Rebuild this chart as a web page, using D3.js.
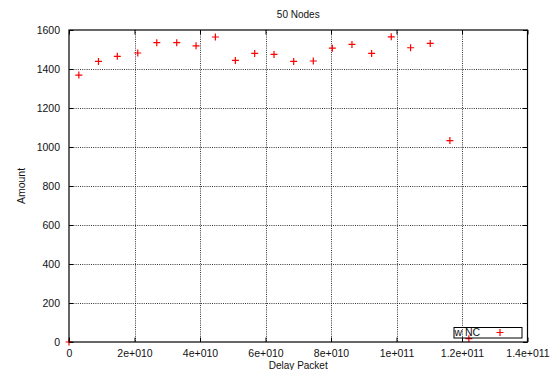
<!DOCTYPE html>
<html>
<head>
<meta charset="utf-8">
<script src="https://cdn.jsdelivr.net/npm/d3@7"></script>
<style>
  html, body { margin: 0; padding: 0; background: #fff; }
  svg { display: block; font-family: "Liberation Sans", Arial, sans-serif; }
</style>
</head>
<body>
<script>
// Measured delay per packet and the amount observed at each delay
const delayPacket = [0, 3.0e9, 9.0e9, 1.475e10, 2.1e10, 2.68e10, 3.29e10, 3.88e10, 4.47e10,
  5.08e10, 5.67e10, 6.26e10, 6.86e10, 7.46e10, 8.04e10, 8.64e10, 9.24e10, 9.84e10,
  1.043e11, 1.103e11, 1.163e11, 1.221e11];
const amount = [0, 1369, 1439, 1465, 1482, 1535, 1535, 1519, 1564,
  1444, 1480, 1475, 1439, 1441, 1507, 1526, 1480, 1565,
  1509, 1531, 1033, 17];

const xTickValues = [0, 2e10, 4e10, 6e10, 8e10, 1e11, 1.2e11, 1.4e11];
const xTickLabels = ["0", "2e+010", "4e+010", "6e+010", "8e+010", "1e+011", "1.2e+011", "1.4e+011"];
const yTickValues = [0, 200, 400, 600, 800, 1000, 1200, 1400, 1600];
const yTickLabels = ["0", "200", "400", "600", "800", "1000", "1200", "1400", "1600"];

const title = "50 Nodes";
const xLabel = "Delay Packet";
const yLabel = "Amount";
const seriesName = "w NC";

const W = 557, H = 370;
const margin = { top: 30, right: 29.5, bottom: 28, left: 69 };
const iw = W - margin.left - margin.right;
const ih = H - margin.top - margin.bottom;

const svg = d3.select("body").append("svg").attr("width", W).attr("height", H);
const g = svg.append("g").attr("transform", `translate(${margin.left},${margin.top})`);

const x = d3.scaleLinear().domain([0, 1.4e11]).range([0, iw]);
const y = d3.scaleLinear().domain([0, 1600]).range([ih, 0]);

const fontSize = 10.5;
const textColor = "#111";

// grid
const grid = g.append("g").attr("stroke", "#000").attr("stroke-width", 0.8)
  .attr("stroke-dasharray", "1,1.2").attr("fill", "none");
grid.selectAll("line.vx").data(xTickValues.slice(1, -1)).join("line")
  .attr("x1", d => Math.round(x(d)) + 0.5).attr("x2", d => Math.round(x(d)) + 0.5)
  .attr("y1", 0).attr("y2", ih);
grid.selectAll("line.hy").data(yTickValues.slice(1, -1)).join("line")
  .attr("y1", d => Math.round(y(d)) + 0.5).attr("y2", d => Math.round(y(d)) + 0.5)
  .attr("x1", 0).attr("x2", iw);

// axes with inward ticks, labels outside
const tickLen = 4.5;
const xAxis = d3.axisBottom(x).tickValues(xTickValues)
  .tickFormat((d, i) => xTickLabels[i]).tickSizeInner(-tickLen).tickSizeOuter(0).tickPadding(8);
const yAxis = d3.axisLeft(y).tickValues(yTickValues)
  .tickFormat((d, i) => yTickLabels[i]).tickSizeInner(-tickLen).tickSizeOuter(0).tickPadding(9);
const xTop = d3.axisTop(x).tickValues(xTickValues).tickFormat("").tickSizeInner(-tickLen).tickSizeOuter(0);
const yRight = d3.axisRight(y).tickValues(yTickValues).tickFormat("").tickSizeInner(-tickLen).tickSizeOuter(0);

function styleAxis(sel) {
  sel.select(".domain").remove();
  sel.selectAll(".tick line").attr("stroke", "#000").attr("stroke-width", 1);
  sel.selectAll(".tick text").attr("fill", textColor).attr("font-size", fontSize)
    .attr("font-family", "Liberation Sans, Arial, sans-serif");
}

g.append("g").attr("transform", `translate(0,${ih})`).call(xAxis).call(styleAxis);
g.append("g").call(yAxis).call(styleAxis);
g.append("g").call(xTop).call(styleAxis);
g.append("g").attr("transform", `translate(${iw},0)`).call(yRight).call(styleAxis);

// data points as "+" markers
const plusPath = s => `M${-s},0H${s}M0,${-s}V${s}`;
g.append("g").selectAll("path").data(delayPacket).join("path")
  .attr("transform", (d, i) => `translate(${x(d)},${y(amount[i])})`)
  .attr("d", plusPath(3.5))
  .attr("stroke", "#ff0000").attr("stroke-width", 1.2).attr("fill", "none");

// frame
g.append("rect").attr("x", 0).attr("y", 0).attr("width", iw).attr("height", ih)
  .attr("fill", "none").attr("stroke", "#000").attr("stroke-width", 1.2);

// legend
const lg = svg.append("g");
lg.append("rect").attr("x", 454).attr("y", 327.5).attr("width", 68).attr("height", 10.5)
  .attr("fill", "none").attr("stroke", "#000").attr("stroke-width", 1);
lg.append("text").attr("x", 454.5).attr("y", 336.3).attr("font-size", fontSize)
  .attr("fill", textColor).text(seriesName);
lg.append("path").attr("transform", "translate(500,332.5)").attr("d", plusPath(3.5))
  .attr("stroke", "#ff0000").attr("stroke-width", 1.2).attr("fill", "none");

// titles
svg.append("text").attr("x", margin.left + iw / 2).attr("y", 17.5).attr("text-anchor", "middle")
  .attr("font-size", 10).attr("fill", textColor).text(title);
svg.append("text").attr("x", margin.left + iw / 2).attr("y", 369).attr("text-anchor", "middle")
  .attr("font-size", 10).attr("fill", textColor).text(xLabel);
svg.append("text").attr("transform", `translate(24.5,${margin.top + ih / 2}) rotate(-90)`)
  .attr("text-anchor", "middle").attr("font-size", fontSize).attr("fill", textColor).text(yLabel);
</script>
</body>
</html>
